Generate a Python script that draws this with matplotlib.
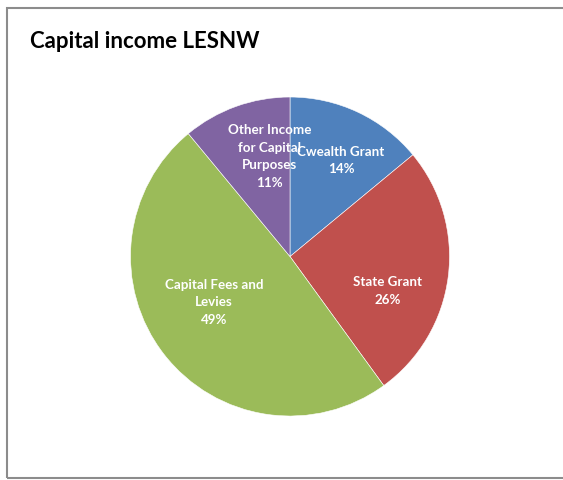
import matplotlib
matplotlib.use("Agg")
import matplotlib.pyplot as plt
from matplotlib.patches import Rectangle

plt.rcParams['font.family'] = ['Lato', 'DejaVu Sans']

categories = ["Cwealth Grant", "State Grant", "Capital Fees and\nLevies", "Other Income\nfor Capital\nPurposes"]
values = [14, 26, 49, 11]
colors = ["#4F81BD", "#C0504D", "#9BBB59", "#8064A2"]
title = "Capital income LESNW"

# label anchor positions (in pie-radius units)
label_pos = [(0.320, 0.602), (0.614, -0.216), (-0.476, -0.288), (-0.129, 0.627)]

fig = plt.figure(figsize=(5.63, 4.80), dpi=100)
fig.patch.set_facecolor("white")

ax = fig.add_axes([0.2318, 0.1333, 319 / 563, 319 / 480])
wedges, _ = ax.pie(values, colors=colors, startangle=90, counterclock=False,
                   radius=1.0, wedgeprops=dict(edgecolor="white", linewidth=0.4))
ax.set_xlim(-1, 1)
ax.set_ylim(-1, 1)
ax.set_aspect("equal")
ax.axis("off")

total = sum(values)
for cat, v, (x, y) in zip(categories, values, label_pos):
    pct = round(100 * v / total)
    ax.text(x, y, f"{cat}\n{pct}%", ha="center", va="center", color="white",
            fontsize=9.6, fontweight="bold", linespacing=1.58)

fig.text(30 / 563, 1 - 42 / 480, title, ha="left", va="center",
         fontsize=16, fontweight="bold", color="black")

fig.add_artist(Rectangle((7 / 563, 2 / 480), 1.0, 470 / 480, transform=fig.transFigure,
                         fill=False, edgecolor="#8c8c8c", linewidth=1.5))

fig.savefig("out.png", dpi=100)
